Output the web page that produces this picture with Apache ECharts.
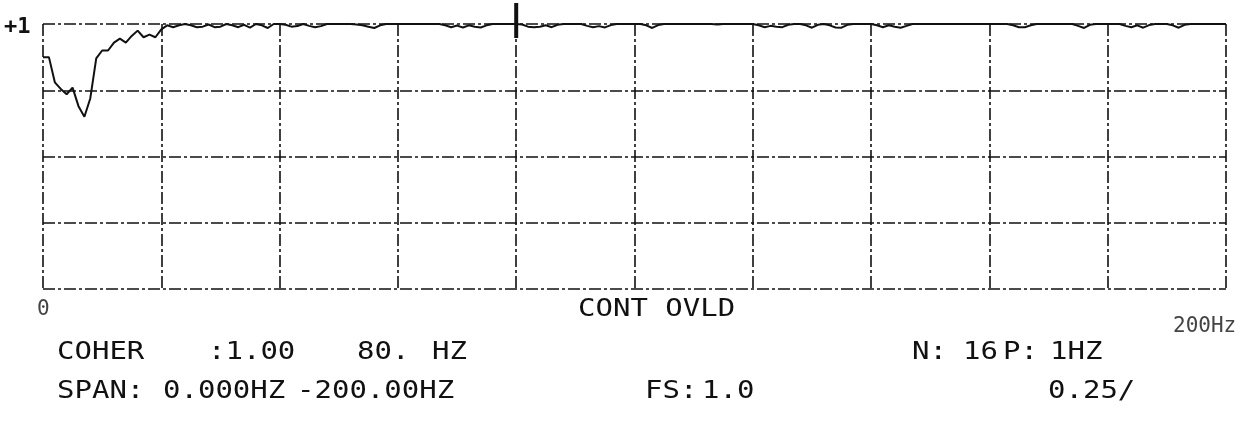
<!DOCTYPE html>
<html>
<head>
<meta charset="utf-8">
<title>COHER</title>
<script src="https://cdn.jsdelivr.net/npm/echarts@6/dist/echarts.min.js"></script>
<style>
  html, body { margin: 0; padding: 0; background: #ffffff; }
  #chart { width: 1248px; height: 421px; }
</style>
</head>
<body>
<div id="chart"></div>
<script>
// Coherence, 0..200 Hz at 1 Hz resolution (index = frequency in Hz)
const coherence = [
  0.875, 0.875, 0.78, 0.755, 0.735, 0.76, 0.69, 0.65, 0.72, 0.87,
  0.90, 0.90, 0.93, 0.945, 0.93, 0.955, 0.975, 0.95, 0.96, 0.95,
  0.98, 0.995, 0.988, 0.995, 1.0, 0.995, 0.988, 0.99, 0.998, 0.988,
  0.99, 1.0, 0.995, 0.988, 0.997, 0.986, 1.0, 0.995, 0.985, 1.0,
  1.0, 0.997, 0.99, 0.992, 1.0, 0.993, 0.988, 0.992, 1.0, 1.0,
  1.0, 1.0, 1.0, 0.998, 0.995, 0.99, 0.985, 0.995, 1.0, 1.0,
  1.0, 1.0, 1.0, 1.0, 1.0, 1.0, 1.0, 1.0, 0.995, 0.988,
  0.994, 0.987, 0.995, 0.99, 0.987, 0.995, 1.0, 1.0, 1.0, 1.0,
  1.0, 0.998, 0.99, 0.988, 0.99, 0.995, 0.988, 0.997, 1.0, 1.0,
  1.0, 1.0, 0.993, 0.988, 0.992, 0.987, 0.996, 1.0, 1.0, 1.0,
  1.0, 1.0, 0.995, 0.985, 0.996, 1.0, 1.0, 1.0, 1.0, 1.0,
  1.0, 1.0, 1.0, 1.0, 0.998, 1.0, 1.0, 1.0, 1.0, 1.0,
  1.0, 0.995, 0.988, 0.993, 0.99, 0.988, 0.997, 1.0, 1.0, 0.995,
  0.986, 0.997, 1.0, 0.995, 0.987, 0.986, 0.997, 1.0, 1.0, 1.0,
  1.0, 0.995, 0.988, 0.995, 0.99, 0.986, 0.993, 1.0, 1.0, 1.0,
  1.0, 1.0, 1.0, 1.0, 1.0, 1.0, 1.0, 1.0, 1.0, 1.0,
  1.0, 1.0, 1.0, 1.0, 0.995, 0.988, 0.988, 0.995, 1.0, 1.0,
  1.0, 1.0, 1.0, 1.0, 1.0, 0.993, 0.985, 0.997, 1.0, 1.0,
  1.0, 1.0, 1.0, 0.993, 0.988, 0.995, 0.986, 0.996, 1.0, 1.0,
  1.0, 0.995, 0.986, 0.997, 1.0, 1.0, 1.0, 1.0, 1.0, 1.0,
  1.0
];
const frequencies = coherence.map((_, i) => i);

// Axis annotations
const yTopLabel = '+1';
const xStartLabel = '0';
const xEndLabel = '200Hz';
const statusLabel = 'CONT OVLD';
const cursorFreq = 80;

// Readout lines under the plot
const readoutRow1 = [
  { text: 'COHER', x: 57 },
  { text: ':1.00', x: 208 },
  { text: '80.', x: 357 },
  { text: 'HZ', x: 432 },
  { text: 'N:', x: 912 },
  { text: '16', x: 963 },
  { text: 'P:', x: 1003 },
  { text: '1HZ', x: 1050 }
];
const readoutRow2 = [
  { text: 'SPAN:', x: 57 },
  { text: '0.000HZ', x: 163 },
  { text: '-200.00HZ', x: 297 },
  { text: 'FS:', x: 645 },
  { text: '1.0', x: 702 },
  { text: '0.25/', x: 1048 }
];

const MONO = '"DejaVu Sans Mono", "Liberation Mono", monospace';
const INK = '#111111';
const gridDash = [12, 3, 3, 3];

const chart = echarts.init(document.getElementById('chart'), null, { renderer: 'canvas' });

function plotterText(t, x, y, size, color, sx, weight) {
  return {
    type: 'text',
    x: x, y: y,
    scaleX: sx,
    silent: true,
    style: {
      text: t, fill: color,
      fontSize: size,
      fontFamily: MONO,
      fontWeight: weight || 'normal',
      align: 'left', verticalAlign: 'middle'
    }
  };
}

const option = {
  animation: false,
  backgroundColor: '#ffffff',
  grid: { left: 43, right: 22, top: 24, bottom: 132, containLabel: false },
  xAxis: {
    type: 'value',
    min: 0, max: 200, interval: 20,
    axisLine: { show: false },
    axisTick: { show: false },
    axisLabel: { show: false },
    splitLine: { show: true, lineStyle: { color: INK, width: 1.6, type: gridDash } }
  },
  yAxis: {
    type: 'value',
    min: 0, max: 1, interval: 0.25,
    axisLine: { show: false },
    axisTick: { show: false },
    axisLabel: { show: false },
    splitLine: { show: true, lineStyle: { color: INK, width: 1.6, type: gridDash } }
  },
  series: [{
    type: 'line',
    data: frequencies.map((f, i) => [f, coherence[i]]),
    showSymbol: false,
    clip: false,
    lineStyle: { color: INK, width: 2 }
  }]
};
chart.setOption(option);

// Cursor marker and annotations
const cx = chart.convertToPixel({ gridIndex: 0 }, [cursorFreq, 1])[0];
const graphics = [
  {
    type: 'line', silent: true,
    shape: { x1: cx, y1: 3, x2: cx, y2: 38 },
    style: { stroke: INK, lineWidth: 4 }
  },
  plotterText(yTopLabel, 4, 27, 22, INK, 1.0, 'bold'),
  plotterText(xStartLabel, 37, 310, 21, '#444444', 1.0),
  plotterText(statusLabel, 578, 309, 25, INK, 1.16),
  plotterText(xEndLabel, 1173, 327, 21, '#444444', 1.0)
];
readoutRow1.forEach(r => graphics.push(plotterText(r.text, r.x, 352, 25, INK, 1.16)));
readoutRow2.forEach(r => graphics.push(plotterText(r.text, r.x, 391, 25, INK, 1.16)));
chart.setOption({ graphic: graphics });
</script>
</body>
</html>
